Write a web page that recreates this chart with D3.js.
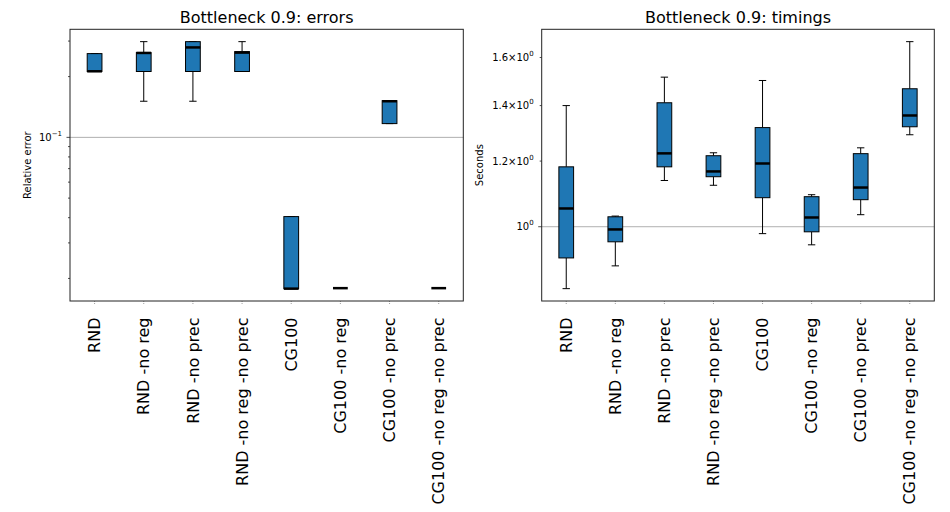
<!DOCTYPE html>
<html>
<head>
<meta charset="utf-8">
<script src="https://cdn.jsdelivr.net/npm/d3@7/dist/d3.min.js"></script>
<style>
  html, body { margin: 0; padding: 0; background: #fff; }
  svg { display: block; font-family: "DejaVu Sans", sans-serif; }
</style>
</head>
<body>
<svg id="chart" width="950" height="512"></svg>
<script>
const categories = ["RND", "RND -no reg", "RND -no prec", "RND -no reg -no prec",
  "CG100", "CG100 -no reg", "CG100 -no prec", "CG100 -no reg -no prec"];

// Relative error box statistics
const errMin = [0.212, 0.151, 0.151, 0.212, 0.0178, 0.0179, 0.117, 0.0179];
const errQ1  = [0.212, 0.212, 0.212, 0.212, 0.0178, 0.0179, 0.117, 0.0179];
const errMed = [0.2125, 0.262, 0.279, 0.263, 0.0178, 0.0179, 0.151, 0.0179];
const errQ3  = [0.260, 0.263, 0.298, 0.266, 0.0405, 0.0179, 0.152, 0.0179];
const errMax = [0.260, 0.298, 0.298, 0.298, 0.0405, 0.0179, 0.152, 0.0179];

// Timing box statistics (seconds)
const timeMin = [0.842, 0.897, 1.137, 1.122, 0.981, 0.951, 1.034, 1.291];
const timeQ1  = [0.917, 0.959, 1.181, 1.149, 1.084, 0.986, 1.078, 1.320];
const timeMed = [1.052, 0.9925, 1.226, 1.166, 1.192, 1.026, 1.115, 1.362];
const timeQ3  = [1.181, 1.028, 1.411, 1.218, 1.317, 1.087, 1.225, 1.467];
const timeMax = [1.400, 1.030, 1.515, 1.228, 1.501, 1.093, 1.245, 1.672];

// Tick values
const errMajorTicks = [0.1];
const errMajorLabels = [["10", "\u22121"]];
const errMinorTicks = [0.02, 0.03, 0.04, 0.05, 0.06, 0.07, 0.08, 0.09, 0.2, 0.3];
const timeTicks = [1.0, 1.2, 1.4, 1.6];
const timeTickLabels = [["10", "0"], ["1.2\u00d710", "0"], ["1.4\u00d710", "0"], ["1.6\u00d710", "0"]];
const timeTickMajor = [true, false, false, false];

const svg = d3.select("#chart");
const plotTop = 29.3, plotBottom = 301;

function panel(opts) {
  const { x0, x1, title, ylabel, ylabelX, mins, q1s, meds, q3s, maxs } = opts;
  const g = svg.append("g");
  const lo = d3.min(mins), hi = d3.max(maxs);
  const lr = Math.log10(hi) - Math.log10(lo);
  const pad = 0.05 * lr;
  const y = d3.scaleLog()
    .domain([Math.pow(10, Math.log10(lo) - pad), Math.pow(10, Math.log10(hi) + pad)])
    .range([plotBottom, plotTop]);
  const x = d3.scaleLinear().domain([0.5, categories.length + 0.5]).range([x0, x1]);

  // grid lines at major ticks
  opts.gridTicks.forEach(t => {
    g.append("line").attr("x1", x0).attr("x2", x1)
      .attr("y1", y(t)).attr("y2", y(t))
      .attr("stroke", "#b0b0b0").attr("stroke-width", 1);
  });

  // y ticks
  opts.yTicks.forEach(tk => {
    const yy = y(tk.v);
    g.append("line").attr("x1", x0).attr("x2", x0 - (tk.major ? 3.5 : 2))
      .attr("y1", yy).attr("y2", yy).attr("stroke", "#222").attr("stroke-width", 0.8);
    if (tk.label) {
      const t = g.append("text").attr("x", x0 - 8).attr("y", yy + 3.6)
        .attr("text-anchor", "end").attr("font-size", 10).attr("fill", "#000");
      t.append("tspan").text(tk.label[0]);
      t.append("tspan").attr("dy", -5).attr("font-size", 7).text(tk.label[1]);
    }
  });

  // x ticks and labels
  categories.forEach((c, i) => {
    const xx = x(i + 1);
    g.append("line").attr("x1", xx).attr("x2", xx).attr("y1", plotBottom).attr("y2", plotBottom + 3.5)
      .attr("stroke", "#888").attr("stroke-width", 0.8).attr("stroke-dasharray", "1,1");
    g.append("text")
      .attr("transform", `translate(${xx},317.5) rotate(-90)`)
      .attr("text-anchor", "end").attr("dy", "0.35em")
      .attr("font-size", 16).attr("fill", "#000").text(c);
  });

  // boxes
  const bw = x(1.3) - x(1);
  const cw = x(1.15) - x(1);
  categories.forEach((c, i) => {
    const cx = x(i + 1);
    const bx = g.append("g");
    bx.append("line").attr("x1", cx).attr("x2", cx).attr("y1", y(q3s[i])).attr("y2", y(maxs[i]))
      .attr("stroke", "#000").attr("stroke-width", 1);
    bx.append("line").attr("x1", cx).attr("x2", cx).attr("y1", y(q1s[i])).attr("y2", y(mins[i]))
      .attr("stroke", "#000").attr("stroke-width", 1);
    [maxs[i], mins[i]].forEach(v => {
      bx.append("line").attr("x1", cx - cw / 2).attr("x2", cx + cw / 2)
        .attr("y1", y(v)).attr("y2", y(v)).attr("stroke", "#000").attr("stroke-width", 1);
    });
    bx.append("rect").attr("x", cx - bw / 2).attr("width", bw)
      .attr("y", y(q3s[i])).attr("height", Math.max(0, y(q1s[i]) - y(q3s[i])))
      .attr("fill", "#1f77b4").attr("stroke", "#000").attr("stroke-width", 1);
    bx.append("line").attr("x1", cx - bw / 2).attr("x2", cx + bw / 2)
      .attr("y1", y(meds[i])).attr("y2", y(meds[i]))
      .attr("stroke", "#000").attr("stroke-width", 2.5);
  });

  // spines
  g.append("rect").attr("x", x0).attr("y", plotTop).attr("width", x1 - x0).attr("height", plotBottom - plotTop)
    .attr("fill", "none").attr("stroke", "#222").attr("stroke-width", 1);

  // title
  g.append("text").attr("x", (x0 + x1) / 2).attr("y", 23).attr("text-anchor", "middle")
    .attr("font-size", 16).attr("fill", "#000").text(title);

  // y label
  g.append("text").attr("transform", `translate(${ylabelX},${(plotTop + plotBottom) / 2}) rotate(-90)`)
    .attr("text-anchor", "middle").attr("font-size", 10).attr("fill", "#000").text(ylabel);
}

panel({
  x0: 70, x1: 463.3, title: "Bottleneck 0.9: errors", ylabel: "Relative error", ylabelX: 31,
  mins: errMin, q1s: errQ1, meds: errMed, q3s: errQ3, maxs: errMax,
  gridTicks: errMajorTicks,
  yTicks: errMajorTicks.map((v, i) => ({ v, major: true, label: errMajorLabels[i] }))
    .concat(errMinorTicks.map(v => ({ v, major: false, label: null })))
});

panel({
  x0: 541.7, x1: 934.3, title: "Bottleneck 0.9: timings", ylabel: "Seconds", ylabelX: 483,
  mins: timeMin, q1s: timeQ1, meds: timeMed, q3s: timeQ3, maxs: timeMax,
  gridTicks: timeTicks.filter((v, i) => timeTickMajor[i]),
  yTicks: timeTicks.map((v, i) => ({ v, major: timeTickMajor[i], label: timeTickLabels[i] }))
});
</script>
</body>
</html>
